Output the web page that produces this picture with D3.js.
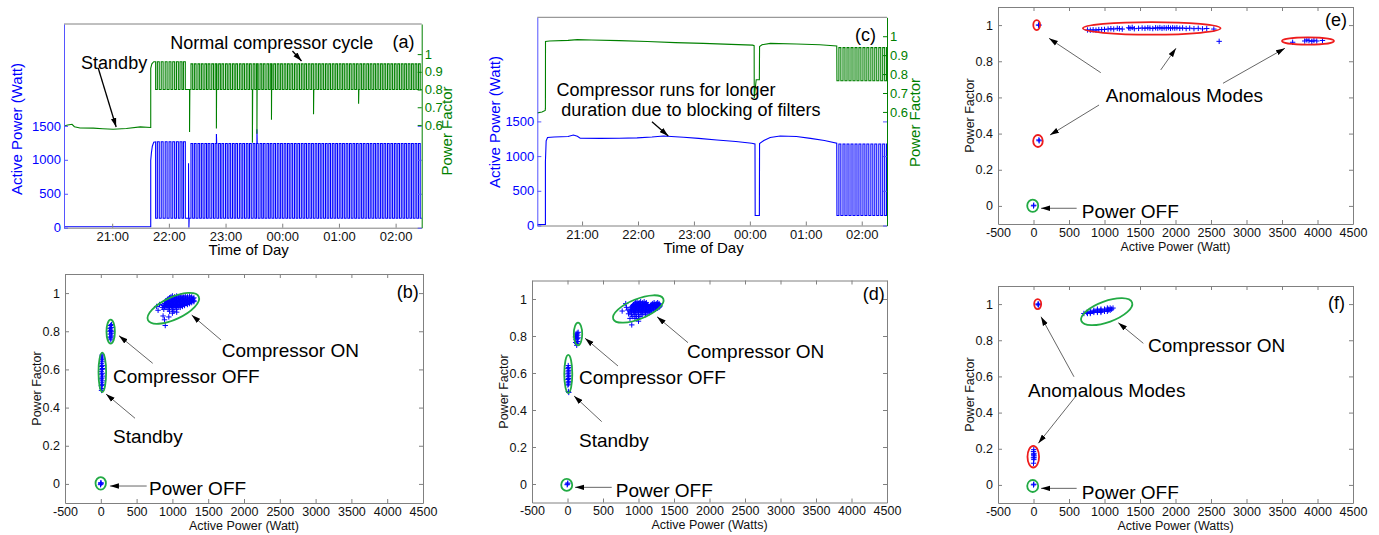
<!DOCTYPE html>
<html lang="en">
<head>
<meta charset="UTF-8">
<title>compressor operating modes</title>
<script src="https://cdn.jsdelivr.net/npm/d3@7"></script>
<style>
  body { margin: 0; background: #fff; }
  svg text { font-family: Arial, "Liberation Sans", sans-serif; }
</style>
</head>
<body>
<svg id="chart" width="1379" height="535"></svg>
<script>
// ---- tick labels ----
const timeTicks = [60, 120, 180, 240, 300, 360];          // minutes after 20:00
const timeTickLabels = ['21:00', '22:00', '23:00', '00:00', '01:00', '02:00'];
const powerTicks = [0, 500, 1000, 1500];
const pfRightTicks = [0.6, 0.7, 0.8, 0.9, 1];
const scatterXTicks = [-500, 0, 500, 1000, 1500, 2000, 2500, 3000, 3500, 4000, 4500];
const scatterYTicks = [0, 0.2, 0.4, 0.6, 0.8, 1];

// ---- (a) normal compressor cycle : [minute, value] ----
const aStandbyPower = [[9, 15], [100.8, 15]];
const aStandbyPf = [[9, 0.594], [13, 0.6], [17.5, 0.604], [20, 0.59], [26, 0.583], [40, 0.582],
  [50, 0.579], [61, 0.576], [75, 0.58], [89.7, 0.589], [100.8, 0.586]];
const aRampPower = [[100.8, 990], [101.5, 1100], [102.5, 1200], [104, 1260], [106, 1265], [106, 140]];
const aRampPf = [[100.8, 0.92], [102, 0.945], [104, 0.957], [106, 0.957], [106, 0.8]];
// compressor on / off switching times, first run of cycles
const aCycles1 = [[107.8, 109.8], [111.9, 113.9], [116.1, 118.1], [120.2, 122.2], [124.1, 126.1],
  [128, 130], [131.8, 133.8], [135.4, 137.4]];
// second run of cycles after the short outage
const aCycles2 = [[143.4, 145.2], [147.0, 148.8], [150.8, 152.6], [154.4, 156.2], [158.1, 159.9],
  [161.6, 163.4], [165.4, 167.2], [169.0, 170.8], [172.7, 174.5], [176.2, 178.0], [180.0, 181.8],
  [183.6, 185.4], [187.3, 189.1], [190.8, 192.6], [194.6, 196.4], [198.2, 200.0], [201.9, 203.7],
  [205.4, 207.2], [209.2, 211.0], [212.7, 214.5], [216.5, 218.3], [220.0, 221.8], [223.8, 225.6],
  [227.3, 229.1], [231.0, 232.8], [234.7, 236.5], [238.3, 240.1], [242.0, 243.8], [245.6, 247.4],
  [249.2, 251.0], [252.9, 254.7], [256.5, 258.3], [260.2, 262.0], [263.8, 265.6], [267.5, 269.3],
  [271.1, 272.9], [274.8, 276.6], [278.4, 280.2], [282.0, 283.8], [285.7, 287.5], [289.3, 291.1],
  [293.0, 294.8], [296.6, 298.4], [300.3, 302.1], [303.9, 305.7], [307.6, 309.4], [311.2, 313.0],
  [314.9, 316.7], [318.5, 320.3], [322.2, 324.0], [325.8, 327.6], [329.5, 331.3], [333.1, 334.9],
  [336.8, 338.6], [340.4, 342.2], [344.1, 345.9], [347.7, 349.5], [351.4, 353.2], [355.0, 356.8],
  [358.7, 360.5], [362.3, 364.1], [366.0, 367.8], [369.6, 371.4], [373.3, 375.1], [376.9, 378.7],
  [380.6, 382.4], [384.2, 386.0]];
const aLevels = { on1W: 1265, on2W: 1240, offW: 140, on1Pf: 0.957, on2Pf: 0.945, offPf: 0.8, end: 390 };
const aPowerSpikes = [[140.8, 950], [141.2, 0], [170.3, 1380], [213.2, 1450]];
const aPfDips = [[141.9, 0.56], [170.3, 0.58], [208.4, 0.5], [213.2, 0.55], [228.6, 0.63], [273.1, 0.66], [320.8, 0.72]];

// ---- (c) blocked filters ----
const cPower = [[12, 15], [20.7, 15], [20.7, 920], [21.5, 1220], [23, 1268], [30, 1275], [45, 1282],
  [50.7, 1304], [55, 1285], [58, 1258], [80, 1256], [100, 1258], [119, 1262], [135, 1275], [147.4, 1290],
  [160, 1278], [169, 1271], [185, 1255], [204.6, 1232], [225, 1210], [242, 1185], [245.5, 1175],
  [245.7, 145], [250.2, 145], [250.4, 1180], [255, 1225], [261.8, 1267], [272.5, 1290], [290, 1282],
  [305, 1255], [320, 1225], [333.2, 1185], [333.4, 145]];
const cPf = [[12, 0.595], [17, 0.6], [20.5, 0.608], [20.7, 0.62], [20.8, 0.972], [25, 0.975], [45, 0.978],
  [55, 0.982], [70, 0.98], [100, 0.977], [130, 0.972], [160, 0.966], [190, 0.962], [220, 0.957],
  [243, 0.953], [244.6, 0.95], [244.7, 0.674], [246.8, 0.77], [250.2, 0.77], [250.4, 0.945], [253, 0.955],
  [262, 0.962], [290, 0.959], [315, 0.955], [333.2, 0.948], [333.4, 0.765]];
const cCycles = [[335.5, 337.6], [339.9, 342], [344.2, 346.3], [348.5, 350.6], [352.8, 354.9], [357, 359.1],
  [361.3, 363.4], [365.5, 367.6], [369.8, 371.9], [374, 376.1], [378.3, 380.4], [382.5, 384.6], [386.6, 388]];
const cLevels = { onW: 1175, offW: 145, onPf: 0.94, offPf: 0.765, end: 390 };

// ---- (b) normal fridge : [watt, power factor] ----
const bPowerOff = [[0, 0], [4, 0.004], [-4, -0.004], [0, 0.006]];
const bStandby = [[10, 0.49], [18, 0.5], [8, 0.515], [20, 0.52], [12, 0.53], [22, 0.54], [6, 0.55], [16, 0.555],
  [24, 0.565], [10, 0.575], [20, 0.58], [6, 0.59], [16, 0.6], [24, 0.605], [10, 0.615], [20, 0.62], [8, 0.63],
  [18, 0.64], [12, 0.65], [22, 0.655], [14, 0.665], [18, 0.675]];
const bCompOff = [[125, 0.77], [140, 0.765], [155, 0.775], [130, 0.785], [148, 0.79], [122, 0.8], [138, 0.805],
  [155, 0.8], [128, 0.815], [146, 0.82], [135, 0.83], [150, 0.835], [140, 0.755]];
const bCompOnRows = [
  [0.985, [1000, 1060, 1120, 1180, 1240]],
  [0.98, [980, 1030, 1090, 1150, 1210, 1270]],
  [0.975, [960, 1010, 1060, 1110, 1160, 1210, 1260, 1300]],
  [0.97, [940, 990, 1040, 1090, 1140, 1190, 1240, 1290]],
  [0.965, [930, 980, 1030, 1080, 1130, 1180, 1230, 1280]],
  [0.96, [910, 960, 1010, 1060, 1110, 1160, 1210, 1260, 1300]],
  [0.955, [900, 950, 1000, 1050, 1100, 1150, 1200, 1250, 1300]],
  [0.95, [920, 970, 1020, 1070, 1120, 1170, 1220, 1270]],
  [0.945, [890, 940, 990, 1040, 1090, 1140, 1190, 1240]],
  [0.94, [910, 960, 1010, 1060, 1110, 1160, 1210]],
  [0.935, [870, 920, 970, 1020, 1070, 1120, 1170]],
  [0.93, [890, 940, 990, 1040, 1090, 1140]],
  [0.925, [860, 910, 960, 1010, 1060, 1110]],
  [0.915, [880, 940, 1000, 1060]],
  [0.905, [960, 1020]]];
const bCompOnLoose = [[800, 0.91], [820, 0.94], [870, 0.88], [950, 0.875], [890, 0.86], [900, 0.83],
  [1000, 0.895], [1060, 0.9], [780, 0.93]];

// ---- (d) blocked filters ----
const dPowerOff = [[0, 0], [5, 0.005], [-5, -0.004]];
const dStandby = [[5, 0.535], [15, 0.54], [10, 0.55], [20, 0.555], [5, 0.565], [15, 0.57], [10, 0.58],
  [20, 0.585], [5, 0.595], [15, 0.6], [10, 0.61], [20, 0.615], [5, 0.625], [15, 0.63], [10, 0.64], [12, 0.5], [18, 0.495]];
const dCompOff = [[115, 0.765], [130, 0.76], [145, 0.77], [120, 0.78], [138, 0.785], [150, 0.79], [112, 0.795],
  [128, 0.8], [145, 0.805], [120, 0.81], [136, 0.815], [150, 0.82], [130, 0.75]];
const dCompOnRows = [
  [0.985, [980, 1030, 1080]],
  [0.98, [960, 1010, 1060, 1110, 1220, 1270]],
  [0.975, [950, 1000, 1050, 1100, 1200, 1250, 1290]],
  [0.97, [930, 980, 1030, 1080, 1130, 1180, 1230, 1280]],
  [0.965, [920, 970, 1020, 1070, 1120, 1170, 1220, 1270, 1300]],
  [0.96, [910, 960, 1010, 1060, 1110, 1160, 1210, 1260, 1300]],
  [0.955, [900, 950, 1000, 1050, 1100, 1150, 1200, 1250, 1290]],
  [0.95, [920, 970, 1020, 1070, 1120, 1170, 1220, 1270]],
  [0.945, [890, 940, 990, 1040, 1090, 1140, 1190, 1240]],
  [0.94, [910, 960, 1010, 1060, 1110, 1160, 1210]],
  [0.935, [880, 930, 980, 1030, 1080, 1130, 1180]],
  [0.93, [900, 950, 1000, 1050, 1100, 1150]],
  [0.925, [900, 950, 1000, 1050, 1100, 1150]],
  [0.915, [900, 950, 1000, 1050, 1100]],
  [0.905, [920, 970, 1020]],
  [0.895, [950, 1000]]];
const dCompOnLoose = [[770, 0.935], [830, 0.955], [860, 0.92], [880, 0.895], [905, 0.86], [850, 0.94], [1000, 0.88], [820, 0.975]];

// ---- (e) anomalous fridge 1 ----
const ePowerOff = [[0, 0], [4, 0.004]];
const eAnomTop = [[70, 1.0], [78, 1.0]];
const eAnomMid = [[80, 0.36], [76, 0.365]];
const eRowMain = [[760, 0.973], [800, 0.972], [840, 0.974], [880, 0.972], [920, 0.975], [960, 0.975], [1000, 0.976],
  [1050, 0.978], [1090, 0.98], [1130, 0.978], [1180, 0.982], [1210, 0.98], [1250, 0.978], [1340, 0.985], [1360, 0.982],
  [1390, 0.987], [1420, 0.98], [1480, 0.982], [1530, 0.984], [1570, 0.982], [1610, 0.985], [1640, 0.983], [1680, 0.981],
  [1720, 0.985], [1750, 0.983], [1780, 0.986], [1810, 0.982], [1840, 0.985], [1870, 0.983], [1900, 0.986], [1930, 0.982],
  [1960, 0.985], [1990, 0.983], [2020, 0.985], [2060, 0.982], [2100, 0.984], [2150, 0.981], [2200, 0.983], [2260, 0.98],
  [2320, 0.982], [2380, 0.979], [2440, 0.981], [2540, 0.978]];
const eStray = [[2615, 0.91]];
const eRight = [[3650, 0.905], [3820, 0.912], [3850, 0.918], [3880, 0.914], [3920, 0.91], [3950, 0.916], [3990, 0.912], [4070, 0.915]];

// ---- (f) anomalous fridge 2 ----
const fPowerOff = [[0, 0], [5, 0.004]];
const fAnomTop = [[62, 1.0], [72, 1.0], [68, 0.995]];
const fAnomLow = [[0, 0.12], [5, 0.14], [0, 0.15], [8, 0.16], [2, 0.17], [6, 0.175], [0, 0.185], [4, 0.195], [8, 0.15], [3, 0.165]];
const fCompOnRows = [
  [0.978, [1040, 1080, 1120]],
  [0.972, [900, 950, 1000, 1050, 1100]],
  [0.966, [850, 900, 950, 1000, 1050, 1080]],
  [0.96, [800, 850, 900, 950, 1000, 1040]],
  [0.954, [750, 800, 850, 900, 950]],
  [0.948, [710, 760, 800]]];

// ---------------------------------------------------------------
const FONT = 'Arial, "Liberation Sans", sans-serif';
const BLUE = '#0000ff', GREEN = '#008000', RED = '#ee1c1c', RING = '#22aa44', BOX = '#808080';
const svg = d3.select('#chart');

const defs = svg.append('defs');
defs.append('marker')
  .attr('id', 'head')
  .attr('viewBox', '0 0 10 6')
  .attr('refX', 10).attr('refY', 3)
  .attr('markerWidth', 9).attr('markerHeight', 6)
  .attr('markerUnits', 'userSpaceOnUse')
  .attr('orient', 'auto')
  .append('path').attr('d', 'M0,0L10,3L0,6Z').attr('fill', '#000');

const rows = r => r.flatMap(([pf, ws]) => ws.map(w => [w, pf]));
const plain = d => String(d);

function pulses(cycles, onV, offV) {
  const pts = [];
  cycles.forEach(([a, b]) => pts.push([a, offV], [a, onV], [b, onV], [b, offV]));
  return pts;
}

function styleAxis(sel, line, txt, size) {
  sel.select('.domain').attr('stroke', line);
  sel.selectAll('.tick line').attr('stroke', line);
  sel.selectAll('.tick text').attr('fill', txt).attr('font-size', size).attr('font-family', FONT);
}

function note(g, t, x, y, size) {
  g.append('text').attr('x', x).attr('y', y).attr('dy', '0.35em')
    .attr('font-size', size).attr('fill', '#000').text(t);
}

function arrow(g, x1, y1, x2, y2, color, width) {
  g.append('line').attr('x1', x1).attr('y1', y1).attr('x2', x2).attr('y2', y2)
    .attr('stroke', color).attr('stroke-width', width).attr('marker-end', 'url(#head)');
}

// ---------------- time series panel ----------------
function timePanel(p) {
  const g = svg.append('g');
  const x = d3.scaleLinear().domain(p.tDomain).range([p.left, p.right]);
  const yW = d3.scaleLinear().domain([0, 3000]).range([p.bottom, p.top]);
  const yPf = d3.scaleLinear().domain(p.pfDomain).range([p.bottom, p.top]);

  g.append('clipPath').attr('id', p.id + 'clip').append('rect')
    .attr('x', p.left).attr('y', p.top).attr('width', p.right - p.left).attr('height', p.bottom - p.top);

  const plot = g.append('g').attr('clip-path', `url(#${p.id}clip)`);
  const lineW = d3.line().x(d => x(d[0])).y(d => yW(d[1]));
  const linePf = d3.line().x(d => x(d[0])).y(d => yPf(d[1]));
  const levelAt = (s, t) => s.filter(d => d[0] <= t).pop()[1];

  plot.append('path').attr('d', lineW(p.power)).attr('fill', 'none').attr('stroke', BLUE).attr('stroke-width', 1.1);
  p.wSpikes.forEach(([t, v]) => {
    plot.append('path').attr('d', lineW([[t, levelAt(p.power, t)], [t, v], [t + 0.3, levelAt(p.power, t)]]))
      .attr('fill', 'none').attr('stroke', BLUE).attr('stroke-width', 1.1);
  });
  plot.append('path').attr('d', linePf(p.pf)).attr('fill', 'none').attr('stroke', GREEN).attr('stroke-width', 1.1);
  p.pfSpikes.forEach(([t, v]) => {
    plot.append('path').attr('d', linePf([[t, levelAt(p.pf, t)], [t, v], [t + 0.3, levelAt(p.pf, t)]]))
      .attr('fill', 'none').attr('stroke', GREEN).attr('stroke-width', 1.1);
  });

  // axes
  const xb = g.append('g').attr('transform', `translate(0,${p.bottom})`)
    .call(d3.axisBottom(x).tickValues(timeTicks).tickFormat((d, i) => timeTickLabels[i])
      .tickSizeInner(-4).tickSizeOuter(0).tickPadding(4));
  styleAxis(xb, BOX, '#111', 13);
  g.append('line').attr('x1', p.left).attr('x2', p.right).attr('y1', p.top).attr('y2', p.top).attr('stroke', BOX);

  const yl = g.append('g').attr('transform', `translate(${p.left},0)`)
    .call(d3.axisLeft(yW).tickValues(powerTicks).tickFormat(plain).tickSizeInner(-4).tickSizeOuter(0).tickPadding(3));
  styleAxis(yl, '#5555ff', BLUE, 13);
  const ylr = g.append('g').attr('transform', `translate(${p.right},0)`)
    .call(d3.axisRight(yW).tickValues(powerTicks).tickSizeInner(-4).tickSizeOuter(0).tickFormat(''));
  styleAxis(ylr, '#5555ff', BLUE, 13);
  ylr.select('.domain').remove();

  const yr = g.append('g').attr('transform', `translate(${p.right},0)`)
    .call(d3.axisRight(yPf).tickValues(pfRightTicks).tickFormat(d3.format('~g'))
      .tickSizeInner(-4).tickSizeOuter(0).tickPadding(3));
  styleAxis(yr, GREEN, GREEN, 13);

  g.append('text').attr('x', x(p.xLabelAt)).attr('y', p.bottom + 22).attr('dy', '0.35em')
    .attr('text-anchor', 'middle').attr('font-size', 15).attr('fill', '#000').text('Time of Day');
  g.append('text').attr('transform', `translate(${p.leftLabel[0]},${p.leftLabel[1]}) rotate(-90)`)
    .attr('dy', '0.35em').attr('text-anchor', 'middle').attr('font-size', 15).attr('fill', BLUE)
    .text('Active Power (Watt)');
  g.append('text').attr('transform', `translate(${p.rightLabel[0]},${p.rightLabel[1]}) rotate(-90)`)
    .attr('dy', '0.35em').attr('text-anchor', 'middle').attr('font-size', 15).attr('fill', GREEN)
    .text('Power Factor');

  p.notes.forEach(n => note(g, n.text, x(n.t), yW(n.w), n.size || 18));
  p.arrows.forEach(a => arrow(g, x(a[0]), yW(a[1]), x(a[2]), yW(a[3]), '#000', 1.3));
}

// ---------------- scatter panel ----------------
function scatterPanel(p) {
  const g = svg.append('g');
  const x = d3.scaleLinear().domain([-500, 4500]).range([p.left, p.right]);
  const y = d3.scaleLinear().domain([-0.1, 1.1]).range([p.bottom, p.top]);

  const ax = [
    g.append('g').attr('transform', `translate(0,${p.bottom})`)
      .call(d3.axisBottom(x).tickValues(scatterXTicks).tickFormat(plain).tickSizeInner(-4).tickSizeOuter(0).tickPadding(4)),
    g.append('g').attr('transform', `translate(0,${p.top})`)
      .call(d3.axisTop(x).tickValues(scatterXTicks).tickFormat('').tickSizeInner(-4).tickSizeOuter(0)),
    g.append('g').attr('transform', `translate(${p.left},0)`)
      .call(d3.axisLeft(y).tickValues(scatterYTicks).tickFormat(plain).tickSizeInner(-4).tickSizeOuter(0).tickPadding(5)),
    g.append('g').attr('transform', `translate(${p.right},0)`)
      .call(d3.axisRight(y).tickValues(scatterYTicks).tickFormat('').tickSizeInner(-4).tickSizeOuter(0))
  ];
  ax.forEach(a => styleAxis(a, BOX, '#111', 12.5));

  const d = p.points.map(([w, pf]) => {
    const px = x(w), py = y(pf);
    return `M${px - 2.7},${py}H${px + 2.7}M${px},${py - 2.7}V${py + 2.7}`;
  }).join('');
  g.append('path').attr('d', d).attr('stroke', BLUE).attr('stroke-width', 1).attr('fill', 'none');

  p.rings.forEach(r => {
    const cx = x(r.w), cy = y(r.pf);
    g.append('ellipse').attr('cx', cx).attr('cy', cy).attr('rx', r.rx).attr('ry', r.ry)
      .attr('transform', `rotate(${r.rot || 0},${cx},${cy})`)
      .attr('fill', 'none').attr('stroke', r.red ? RED : RING).attr('stroke-width', 1.8);
  });

  p.arrows.forEach(a => arrow(g, x(a[0]), y(a[1]), x(a[2]), y(a[3]), '#555', 0.9));
  p.notes.forEach(n => note(g, n.text, x(n.w), y(n.pf), n.size || 19));

  g.append('text').attr('x', (p.left + p.right) / 2).attr('y', p.bottom + 22.5).attr('dy', '0.35em')
    .attr('text-anchor', 'middle').attr('font-size', 12.5).attr('fill', '#111').text(p.xLabel);
  g.append('text').attr('transform', `translate(${p.left - 28},${(p.top + p.bottom) / 2}) rotate(-90)`)
    .attr('dy', '0.35em').attr('text-anchor', 'middle').attr('font-size', 12.5).attr('fill', '#111')
    .text('Power Factor');
}

// ---------------- build panels ----------------
const aPower = aStandbyPower.concat(aRampPower,
  pulses(aCycles1, aLevels.on1W, aLevels.offW),
  pulses(aCycles2, aLevels.on2W, aLevels.offW),
  [[aLevels.end, aLevels.offW]]);
const aPf = aStandbyPf.concat(aRampPf,
  pulses(aCycles1, aLevels.on1Pf, aLevels.offPf),
  pulses(aCycles2, aLevels.on2Pf, aLevels.offPf),
  [[aLevels.end, aLevels.offPf]]);

timePanel({
  id: 'a', left: 64, right: 421.7, top: 24, bottom: 227.7,
  tDomain: [9, 387.6], pfDomain: [0.02, 1.17],
  power: aPower, pf: aPf, wSpikes: aPowerSpikes, pfSpikes: aPfDips,
  xLabelAt: 204.5, leftLabel: [16.7, 129], rightLabel: [447, 131],
  notes: [
    { text: 'Standby', t: 27.1, w: 2426 },
    { text: 'Normal compressor cycle', t: 121.5, w: 2721 },
    { text: '(a)', t: 356.8, w: 2735 }
  ],
  arrows: [[45.2, 2352, 64.2, 1483], [250.8, 2603, 260.4, 2455]]
});

const cPowerAll = cPower.concat(pulses(cCycles, cLevels.onW, cLevels.offW), [[cLevels.end, cLevels.offW]]);
const cPfAll = cPf.concat(pulses(cCycles, cLevels.onPf, cLevels.offPf), [[cLevels.end, cLevels.offPf]]);

timePanel({
  id: 'c', left: 537.3, right: 887, top: 17.3, bottom: 225.5,
  tDomain: [12, 387.1], pfDomain: [0, 1.1],
  power: cPowerAll, pf: cPfAll, wSpikes: [], pfSpikes: [],
  xLabelAt: 190.3, leftLabel: [495, 122], rightLabel: [915, 122.5],
  notes: [
    { text: '(c)', t: 352.8, w: 2745 },
    { text: 'Compressor runs for longer', t: 32.5, w: 1953 },
    { text: 'duration due to blocking of filters', t: 37.8, w: 1664 }
  ],
  arrows: [[135, 1496, 152.5, 1290]]
});

scatterPanel({
  left: 65, right: 423, top: 274, bottom: 503, xLabel: 'Active Power (Watt)',
  points: bPowerOff.concat(bStandby, bCompOff, rows(bCompOnRows), bCompOnLoose),
  rings: [
    { w: 1013, pf: 0.92, rx: 28, ry: 11, rot: -25 },
    { w: 138, pf: 0.798, rx: 4.2, ry: 12 },
    { w: 21, pf: 0.585, rx: 3.8, ry: 19.7 },
    { w: -1, pf: 0.003, rx: 5.2, ry: 6.3 }
  ],
  arrows: [[1679, 0.754, 1269, 0.885], [725, 0.632, 254, 0.777], [478, 0.344, 73, 0.471], [641, -0.011, 128, -0.011]],
  notes: [
    { text: 'Compressor ON', w: 1688, pf: 0.702 },
    { text: 'Compressor OFF', w: 170, pf: 0.566 },
    { text: 'Standby', w: 170, pf: 0.247 },
    { text: 'Power OFF', w: 673, pf: -0.021 },
    { text: '(b)', w: 4133, pf: 1.007, size: 18 }
  ]
});

scatterPanel({
  left: 532, right: 887, top: 280.5, bottom: 502.5, xLabel: 'Active Power (Watts)',
  points: dPowerOff.concat(dStandby, dCompOff, rows(dCompOnRows), dCompOnLoose),
  rings: [
    { w: 997, pf: 0.946, rx: 27, ry: 10, rot: -22 },
    { w: 148, pf: 0.811, rx: 4.2, ry: 11.3 },
    { w: 11, pf: 0.595, rx: 4, ry: 19 },
    { w: -11, pf: -0.005, rx: 5.5, ry: 6 }
  ],
  arrows: [[1697, 0.764, 1261, 0.904], [711, 0.638, 247, 0.788], [482, 0.337, 92, 0.476], [623, -0.018, 106, -0.018]],
  notes: [
    { text: 'Compressor ON', w: 1683, pf: 0.715 },
    { text: 'Compressor OFF', w: 162, pf: 0.578 },
    { text: 'Standby', w: 162, pf: 0.238 },
    { text: 'Power OFF', w: 679, pf: -0.032 },
    { text: '(d)', w: 4158, pf: 1.027, size: 18 }
  ]
});

scatterPanel({
  left: 998, right: 1353, top: 7, bottom: 224, xLabel: 'Active Power (Watt)',
  points: ePowerOff.concat(eAnomTop, eAnomMid, eRowMain, eStray, eRight),
  rings: [
    { w: 45, pf: 1.0, rx: 3.4, ry: 5, red: true },
    { w: 1665, pf: 0.982, rx: 68.8, ry: 6.3, red: true },
    { w: 3866, pf: 0.912, rx: 26, ry: 3.6, red: true },
    { w: 63, pf: 0.359, rx: 4.8, ry: 6, red: true },
    { w: -11, pf: 0.001, rx: 5.5, ry: 6.2 }
  ],
  arrows: [[947, 0.737, 218, 0.927], [1792, 0.752, 2007, 0.872], [2669, 0.678, 3542, 0.872],
    [923, 0.558, 232, 0.392], [608, -0.013, 106, -0.013]],
  notes: [
    { text: 'Anomalous Modes', w: 1017, pf: 0.613 },
    { text: 'Power OFF', w: 679, pf: -0.032 },
    { text: '(e)', w: 4106, pf: 1.028, size: 18 }
  ]
});

scatterPanel({
  left: 998, right: 1353, top: 286, bottom: 503, xLabel: 'Active Power (Watts)',
  points: fPowerOff.concat(fAnomTop, fAnomLow, rows(fCompOnRows)),
  rings: [
    { w: 59, pf: 1.0, rx: 3.5, ry: 5, red: true },
    { w: 1031, pf: 0.958, rx: 27, ry: 10.5, rot: -20 },
    { w: -3, pf: 0.156, rx: 5.8, ry: 10.8, red: true },
    { w: -11, pf: -0.006, rx: 5.5, ry: 6 }
  ],
  arrows: [[1547, 0.783, 1194, 0.897], [570, 0.598, 106, 0.93], [599, 0.492, 68, 0.23], [608, -0.019, 106, -0.019]],
  notes: [
    { text: 'Compressor ON', w: 1613, pf: 0.774 },
    { text: 'Anomalous Modes', w: -77, pf: 0.525 },
    { text: 'Power OFF', w: 679, pf: -0.043 },
    { text: '(f)', w: 4148, pf: 1.006, size: 18 }
  ]
});
</script>
</body>
</html>
